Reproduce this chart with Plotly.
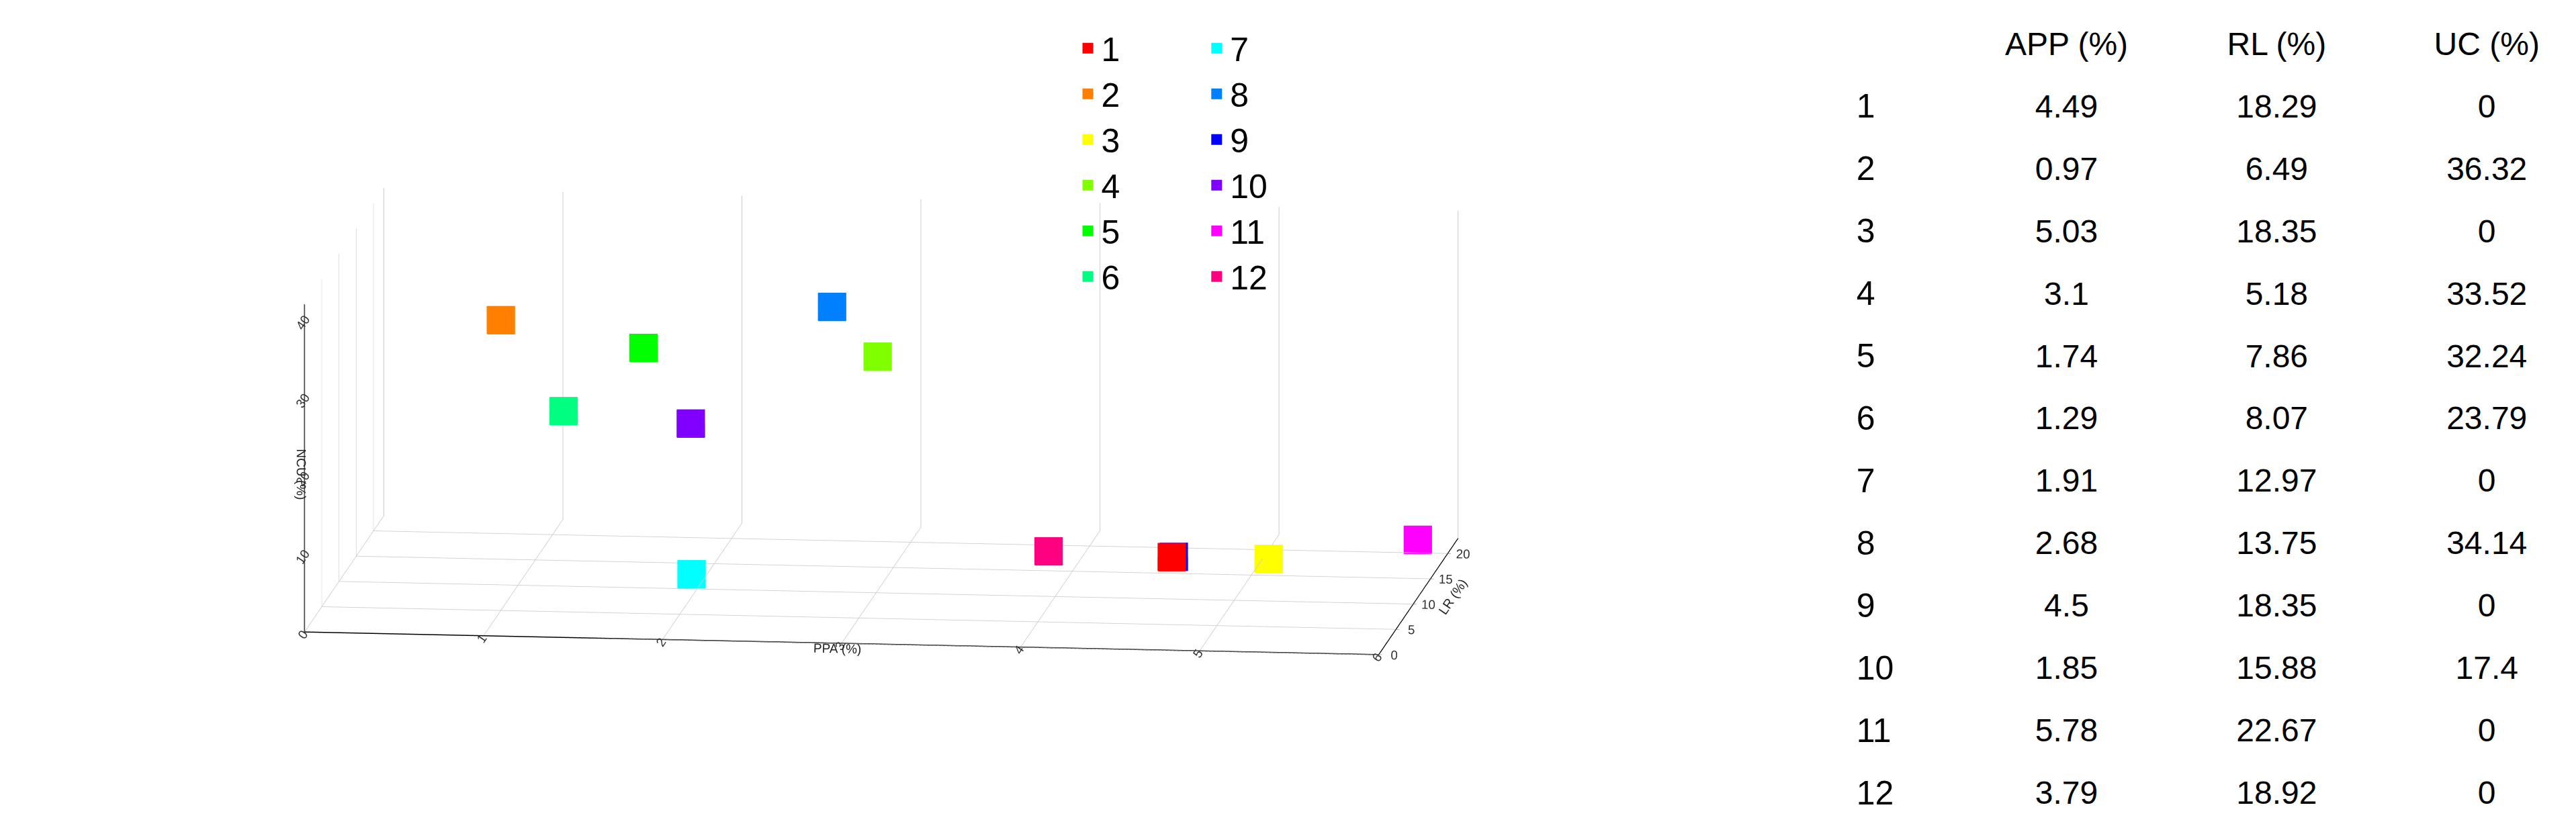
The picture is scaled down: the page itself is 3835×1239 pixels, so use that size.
import plotly.graph_objects as go

samples = [str(i) for i in range(1, 13)]
app = [4.49, 0.97, 5.03, 3.1, 1.74, 1.29, 1.91, 2.68, 4.5, 1.85, 5.78, 3.79]
rl = [18.29, 6.49, 18.35, 5.18, 7.86, 8.07, 12.97, 13.75, 18.35, 15.88, 22.67, 18.92]
uc = [0, 36.32, 0, 33.52, 32.24, 23.79, 0, 34.14, 0, 17.4, 0, 0]
colors = ["#ff0000", "#ff8000", "#ffff00", "#80ff00", "#00ff00", "#00ff80",
          "#00ffff", "#0080ff", "#0000ff", "#8000ff", "#ff00ff", "#ff0080"]
headers = ["APP (%)", "RL (%)", "UC (%)"]

fig = go.Figure()
for i, s in enumerate(samples):
    fig.add_trace(go.Scatter3d(
        x=[app[i]], y=[rl[i]], z=[uc[i]], mode="markers", name=s,
        marker=dict(symbol="square", size=22, color=colors[i], line=dict(width=0)),
        legend="legend" if i < 6 else "legend2",
    ))

# table drawn as text on a hidden 2D axis
cols = ["row", "APP", "RL", "UC"]
rows = list(range(13))
for j, c in enumerate(cols):
    if j == 0:
        txt = [""] + samples
    else:
        v = [app, rl, uc][j - 1]
        txt = [headers[j - 1]] + [str(x) for x in v]
    fig.add_trace(go.Scatter(
        x=[j] * 13, y=rows, mode="text", text=txt, showlegend=False,
        textfont=dict(size=48 if j else 50, color="black"),
        textposition="middle right" if j == 0 else "middle center",
        hoverinfo="skip",
    ))


def ax(title):
    return dict(showbackground=False, gridcolor="#cccccc", showline=True, linecolor="black",
                linewidth=3, ticks="outside", tickfont=dict(size=15, color="#333"),
                title=dict(text=title, font=dict(size=19, color="#222")),
                zeroline=False, showspikes=False)


fig.update_layout(
    width=3835, height=1239, paper_bgcolor="white", plot_bgcolor="white",
    font=dict(family="Liberation Sans, Arial", color="black"),
    margin=dict(l=0, r=0, t=0, b=0),
    scene=dict(
        domain=dict(x=[0, 0.68], y=[0, 1]),
        xaxis=dict(ax("PPA (%)"), range=[0, 6], dtick=1),
        yaxis=dict(ax("LR (%)"), range=[0, 23], dtick=5),
        zaxis=dict(ax("NCU (%)"), range=[0, 42], dtick=10, showgrid=False),
        aspectmode="manual", aspectratio=dict(x=2.6, y=1.6, z=0.8),
        camera=dict(eye=dict(x=0.3, y=-2.5, z=0.45), projection=dict(type="orthographic")),
    ),
    xaxis=dict(domain=[0.69, 1], range=[-0.35, 3.45], visible=False, fixedrange=True),
    yaxis=dict(domain=[0.02, 0.98], range=[12.4, -0.4], visible=False, fixedrange=True),
    legend=dict(x=0.415, y=0.98, font=dict(size=50), bgcolor="rgba(0,0,0,0)"),
    legend2=dict(x=0.465, y=0.98, font=dict(size=50), bgcolor="rgba(0,0,0,0)"),
)

fig.write_html("out.html")
